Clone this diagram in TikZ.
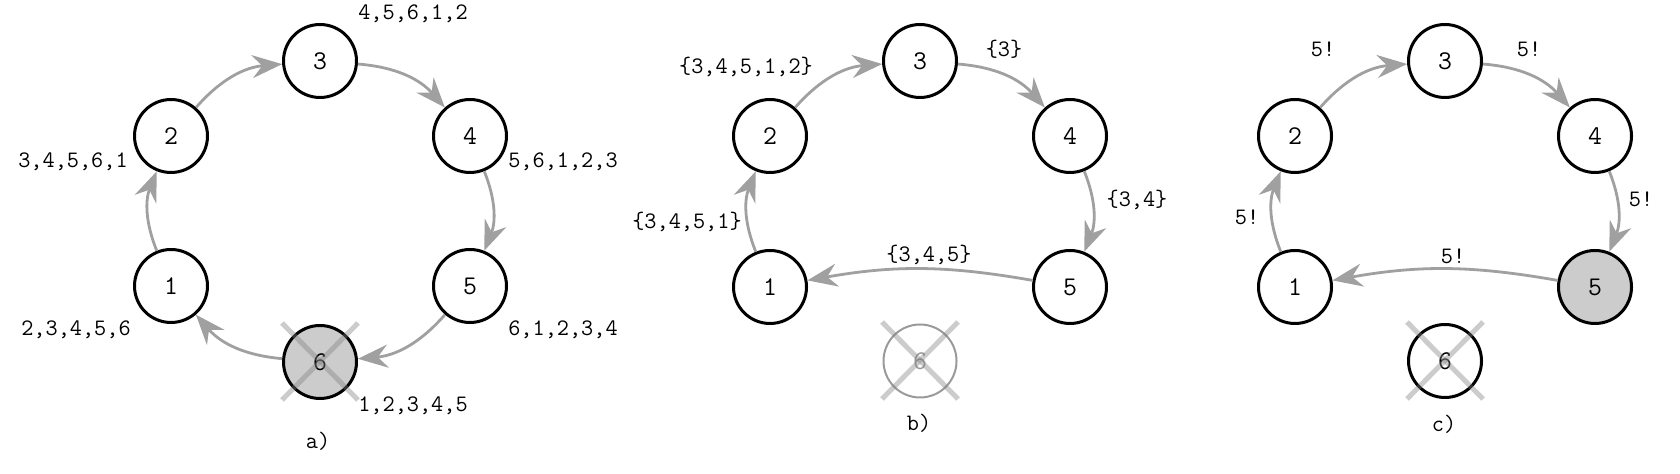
\documentclass[tikz,border=0pt]{standalone}
\usetikzlibrary{arrows.meta,calc}
\definecolor{edgegray}{HTML}{A0A0A0}
\definecolor{fillgray}{HTML}{CCCCCC}
\definecolor{deadgray}{HTML}{9A9A9A}
\begin{document}
\begin{tikzpicture}[x=0.5pt,y=-0.5pt,
  vtx/.style={circle,draw=black,line width=1.5pt,minimum size=36.5pt,inner sep=0pt,font=\fontsize{13.5}{16}\selectfont\ttfamily},
  deadvtx/.style={vtx,draw=deadgray,text=deadgray,line width=1pt},
  lbl/.style={font=\fontsize{11.8}{14}\selectfont\ttfamily,inner sep=0pt},
  flow/.style={draw=edgegray,line width=1.4pt,-{Stealth[length=15pt,width=11.5pt,inset=5pt]}},
  crossline/.style={draw=gray,line width=2.5pt,opacity=0.4}]
\useasboundingbox (0,0) rectangle (1680,474);

% ---------- panel a ----------
\node[vtx] (a1) at (171,286) {1};
\node[vtx] (a2) at (171,136) {2};
\node[vtx] (a3) at (320,61) {3};
\node[vtx] (a4) at (470,136) {4};
\node[vtx] (a5) at (470,286) {5};
\node[vtx,fill=fillgray] (a6) at (320,362) {6};
\draw[flow] (a1) to[bend left=22] (a2);
\draw[flow] (a2) to[bend left=22] (a3);
\draw[flow] (a3) to[bend left=22] (a4);
\draw[flow] (a4) to[bend left=22] (a5);
\draw[flow] (a5) to[bend left=22] (a6);
\draw[flow] (a6) to[bend left=22] (a1);
\draw[crossline] ($(a6)+(-38,-39)$) -- ($(a6)+(38,38)$);
\draw[crossline] ($(a6)+(-38,38)$) -- ($(a6)+(38,-39)$);
\node[lbl] (la3) at (413,14) {4,5,6,1,2};
\node[lbl] (la2) at (73,162) {3,4,5,6,1};
\node[lbl] (la4) at (563,162) {5,6,1,2,3};
\node[lbl] (la1) at (76,330) {2,3,4,5,6};
\node[lbl] (la5) at (563,330) {6,1,2,3,4};
\node[lbl] (la6) at (413,406) {1,2,3,4,5};
\node[lbl] (capa) at (318,441) {a)};

% ---------- panel b ----------
\node[vtx] (b1) at (770,287) {1};
\node[vtx] (b2) at (770,136) {2};
\node[vtx] (b3) at (920,61) {3};
\node[vtx] (b4) at (1070,136) {4};
\node[vtx] (b5) at (1070,287) {5};
\node[deadvtx] (b6) at (920,361) {6};
\draw[flow] (b1) to[bend left=22] (b2);
\draw[flow] (b2) to[bend left=22] (b3);
\draw[flow] (b3) to[bend left=22] (b4);
\draw[flow] (b4) to[bend left=22] (b5);
\draw[flow] (b5) to[bend right=10] (b1);
\draw[crossline] ($(b6)+(-38,-39)$) -- ($(b6)+(38,38)$);
\draw[crossline] ($(b6)+(-38,38)$) -- ($(b6)+(38,-39)$);
\node[lbl] (lb23) at (746,67) {\{3,4,5,1,2\}};
\node[lbl] (lb34) at (1004,49) {\{3\}};
\node[lbl] (lb45) at (1137,200) {\{3,4\}};
\node[lbl] (lb12) at (687,222) {\{3,4,5,1\}};
\node[lbl] (lb51) at (929,255) {\{3,4,5\}};
\node[lbl] (capb) at (919,423) {b)};

% ---------- panel c ----------
\node[vtx] (c1) at (1295,287) {1};
\node[vtx] (c2) at (1295,136) {2};
\node[vtx] (c3) at (1445,61) {3};
\node[vtx] (c4) at (1595,136) {4};
\node[vtx,fill=fillgray] (c5) at (1595,287) {5};
\node[vtx] (c6) at (1445,361) {6};
\draw[flow] (c1) to[bend left=22] (c2);
\draw[flow] (c2) to[bend left=22] (c3);
\draw[flow] (c3) to[bend left=22] (c4);
\draw[flow] (c4) to[bend left=22] (c5);
\draw[flow] (c5) to[bend right=10] (c1);
\draw[crossline] ($(c6)+(-38,-39)$) -- ($(c6)+(38,38)$);
\draw[crossline] ($(c6)+(-38,38)$) -- ($(c6)+(38,-39)$);
\node[lbl] (lc23) at (1323,49) {5!};
\node[lbl] (lc34) at (1529,49) {5!};
\node[lbl] (lc45) at (1641,199) {5!};
\node[lbl] (lc12) at (1247,217) {5!};
\node[lbl] (lc51) at (1453,256) {5!};
\node[lbl] (capc) at (1444,424) {c)};
\end{tikzpicture}
\end{document}
